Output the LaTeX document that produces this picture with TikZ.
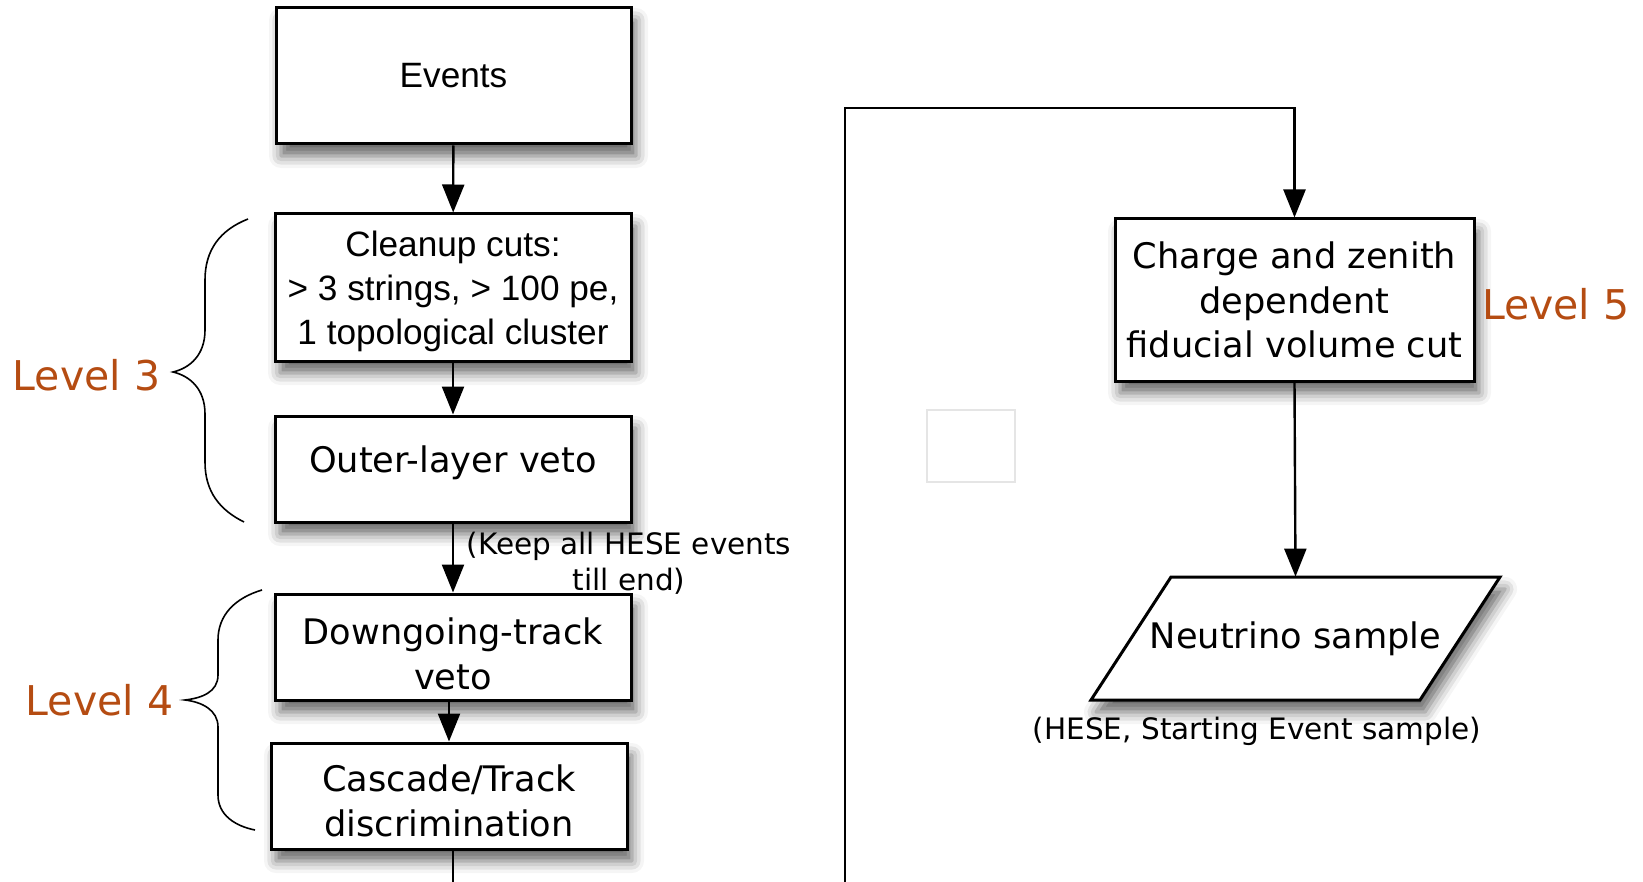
\documentclass[tikz,border=0pt]{standalone}
\usepackage{fontspec}
\setmainfont{DejaVu Sans}
\newfontfamily\arialfont{Liberation Sans}
\usepackage{tikz}
\usetikzlibrary{arrows.meta}
\usetikzlibrary{calc}
\usetikzlibrary{shadows.blur}
\definecolor{levelbrown}{RGB}{181,76,18}

\begin{document}
\begin{tikzpicture}[x=0.5pt,y=-0.5pt,
	boxshadow/.style={blur shadow={shadow xshift=2.5pt,shadow yshift=-6pt,shadow blur radius=6pt,shadow opacity=60}},
	stage/.style={draw,line width=1.5pt,fill=white,inner sep=0pt,align=center,
		font=\fontsize{17.6pt}{22.2pt}\selectfont,boxshadow},
	note/.style={align=center,font=\fontsize{14.75pt}{17.8pt}\selectfont},
	levellab/.style={text=levelbrown,font=\fontsize{20.5pt}{24pt}\selectfont},
	flowarrow/.style={line width=1.2pt,-{Triangle[length=14pt,width=11pt]}},
	loopline/.style={line width=1.1pt},
	bracepath/.style={line width=0.8pt}]

	\useasboundingbox (0,0) rectangle (1643,882);

	% left column
	\node[stage,minimum width=177.5pt,minimum height=68pt,font=\arialfont\fontsize{17.6pt}{22.2pt}\selectfont] (events) at (453.5,76) {Events};
	\node[stage,minimum width=178pt,minimum height=73.5pt,text height=61pt,font=\arialfont\fontsize{17.6pt}{22.2pt}\selectfont] (cleanup) at (453,287.5) {Cleanup cuts:\\> 3 strings, > 100 pe,\\1 topological cluster};
	\node[stage,minimum width=178pt,minimum height=53pt,text depth=10pt] (outer) at (453,469) {Outer-layer veto};
	\node[stage,minimum width=178pt,minimum height=53pt,text height=42.6pt] (down) at (453,647) {Downgoing-track\\veto};
	\node[stage,minimum width=178pt,minimum height=53pt,text height=40.3pt] (cascade) at (449,796) {Cascade/Track\\discrimination};

	\draw[flowarrow] (events) -- (cleanup);
	\draw[flowarrow] (cleanup) -- (outer);
	\draw[flowarrow] (outer) -- (down);
	\draw[flowarrow] (down.south -| cascade.north) -- (cascade.north);
	\node[note] (keepnote) at (629,563) {(Keep all HESE events\\till end)};

	\coordinate (bottomL) at (453,882);
	\draw[loopline] (cascade.south -| bottomL) -- (bottomL);

	% braces and levels
	\draw[bracepath] (248,219) .. controls (220,230) and (205,250) .. (205,280) -- (205,330)
		.. controls (205,355) and (190,368) .. (173,372)
		.. controls (190,376) and (205,389) .. (205,414) -- (205,462)
		.. controls (205,492) and (220,510) .. (244,522);
	\draw[bracepath] (262,590) .. controls (235,598) and (218,615) .. (218,640) -- (218,675)
		.. controls (218,692) and (202,698) .. (185,700)
		.. controls (202,702) and (218,710) .. (218,727) -- (218,795)
		.. controls (218,815) and (235,826) .. (255,830);
	\node[levellab] (level3) at (86.5,375) {Level 3};
	\node[levellab] (level4) at (99.5,700) {Level 4};

	% right column
	\node[stage,minimum width=179.5pt,minimum height=81pt] (charge) at (1294.5,300) {Charge and zenith\\dependent\\fiducial volume cut};
	\node[levellab,anchor=west] (level5) at (1475,304) {Level 5};

	\coordinate (nsC) at (1295.5,638.5);
	\begin{scope}
		\draw[line width=1.5pt,fill=white,boxshadow] ($(nsC)+(-124.5,-61.5)$) -- ($(nsC)+(204.5,-61.5)$)
			-- ($(nsC)+(124.5,61.5)$) -- ($(nsC)+(-204.5,61.5)$) -- cycle;
	\end{scope}
	\node[inner sep=0pt,minimum width=164.5pt,minimum height=61.5pt,font=\fontsize{17.6pt}{22.2pt}\selectfont] (neutrino) at (nsC) {Neutrino sample};
	\node[note] (hese) at (1257,731) {(HESE, Starting Event sample)};

	\coordinate (loopA) at (845,882);
	\coordinate (loopB) at (845,108);
	\draw[loopline] (loopA) -- (loopB) -| ($(charge.north)+(0,-40)$);
	\draw[flowarrow,fill=black,draw opacity=1,fill opacity=1] ($(charge.north)+(0,-41)$) -- (charge.north);
	\draw[flowarrow,fill=black,draw opacity=1,fill opacity=1] (charge.south) -- (neutrino.north);

	\node[draw=black!10,line width=0.6pt,minimum width=44pt,minimum height=36pt] (blank) at (971,446) {};

\end{tikzpicture}
\end{document}
